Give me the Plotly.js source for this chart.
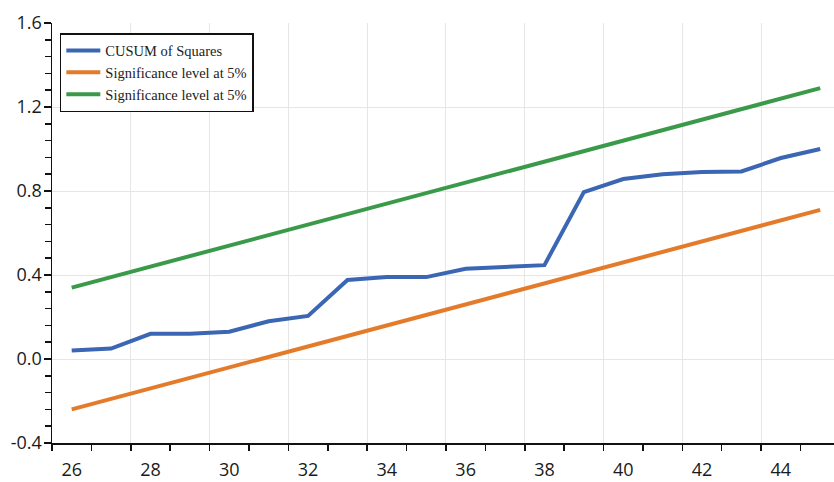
<!DOCTYPE html>
<html>
<head>
<meta charset="utf-8">
<script src="https://cdn.plot.ly/plotly-3.0.1.min.js"></script>
<style>
  html, body { margin: 0; padding: 0; background: #fff; }
  #chart { width: 834px; height: 482px; }
</style>
</head>
<body>
<div id="chart"></div>
<script>
// Observation index for the recursive residuals
const obs = [26, 27, 28, 29, 30, 31, 32, 33, 34, 35, 36, 37, 38, 39, 40, 41, 42, 43, 44, 45];

// CUSUM of squares statistic
const cusumSq = [0.04, 0.05, 0.12, 0.12, 0.13, 0.18, 0.205, 0.376, 0.39, 0.39,
                 0.43, 0.44, 0.447, 0.795, 0.857, 0.88, 0.89, 0.893, 0.957, 1.0];

// Lower and upper 5% significance bounds
const lowerBound = [-0.24, -0.19, -0.14, -0.09, -0.04, 0.01, 0.06, 0.11, 0.16, 0.21,
                    0.26, 0.31, 0.36, 0.41, 0.46, 0.51, 0.56, 0.61, 0.66, 0.71];
const upperBound = [0.34, 0.39, 0.44, 0.49, 0.54, 0.59, 0.64, 0.69, 0.74, 0.79,
                    0.84, 0.89, 0.94, 0.99, 1.04, 1.09, 1.14, 1.19, 1.24, 1.29];

// Axis labels
const xLabels = [26, 28, 30, 32, 34, 36, 38, 40, 42, 44];
const yLabels = [-0.4, 0.0, 0.4, 0.8, 1.2, 1.6];

const names = ['CUSUM of Squares', 'Significance level at 5%', 'Significance level at 5%'];

const traces = [
  { x: obs, y: cusumSq, name: names[0], mode: 'lines',
    line: { color: '#3b66b4', width: 4 } },
  { x: obs, y: lowerBound, name: names[1], mode: 'lines',
    line: { color: '#e37b2b', width: 4 } },
  { x: obs, y: upperBound, name: names[2], mode: 'lines', xaxis: 'x2',
    line: { color: '#3b9a4a', width: 4 } }
];

const tickFont = { family: 'Open Sans, sans-serif', size: 18, color: '#1a1a1a' };

const layout = {
  width: 834, height: 482,
  margin: { l: 52, r: 0, t: 23, b: 39 },
  paper_bgcolor: '#fff', plot_bgcolor: '#fff',
  showlegend: true,
  legend: {
    x: 0.01, y: 0.976, xanchor: 'left', yanchor: 'top',
    bgcolor: '#fff', bordercolor: '#111', borderwidth: 1.5,
    font: { family: 'Liberation Serif, serif', size: 14.5, color: '#222' },
    itemwidth: 34, tracegroupgap: 0
  },
  // labelled axis: observation numbers centred on each point
  xaxis: {
    range: [25.5, 45.35],
    tickmode: 'array', tickvals: xLabels, ticktext: xLabels.map(String),
    ticks: '', showgrid: false, zeroline: false,
    showline: true, linecolor: '#111', linewidth: 1.5,
    tickfont: tickFont, ticklabelstandoff: 10, fixedrange: true
  },
  // companion axis: ticks and grid on the boundaries between observations
  xaxis2: {
    overlaying: 'x', matches: 'x', anchor: 'y', side: 'bottom',
    tickmode: 'linear', tick0: 25.5, dtick: 2,
    ticks: 'outside', ticklen: 7, tickwidth: 1.5, tickcolor: '#111',
    showticklabels: false, showgrid: true, gridcolor: '#e6e6e6', gridwidth: 1,
    zeroline: false, showline: false,
    minor: { tick0: 25.5, dtick: 1, ticks: 'outside', ticklen: 7, tickwidth: 1.5,
             tickcolor: '#111', showgrid: false }
  },
  yaxis: {
    range: [-0.4, 1.6],
    tickmode: 'array', tickvals: yLabels, ticktext: yLabels.map(v => v.toFixed(1)),
    ticks: 'outside', ticklen: 7, tickwidth: 1.5, tickcolor: '#111',
    showgrid: true, gridcolor: '#e6e6e6', gridwidth: 1, zeroline: false,
    showline: true, linecolor: '#111', linewidth: 1.5,
    tickfont: tickFont, ticklabelstandoff: -2,
    minor: { tick0: -0.4, dtick: 0.08, ticks: 'outside', ticklen: 6, tickwidth: 1.5,
             tickcolor: '#111', showgrid: false },
    fixedrange: true
  }
};

Plotly.newPlot('chart', traces, layout, { displayModeBar: false, staticPlot: true });
</script>
</body>
</html>
